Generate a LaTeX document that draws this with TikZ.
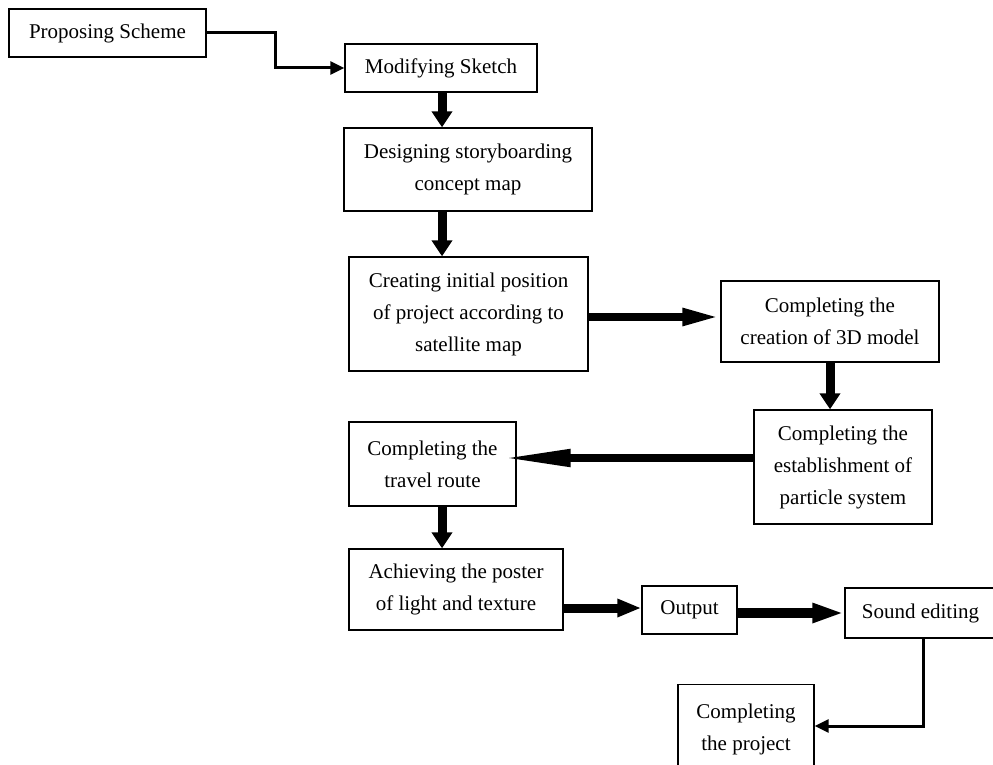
\documentclass[tikz,border=0pt]{standalone}
\usepackage{fontspec}
\setmainfont{Liberation Serif}
\usetikzlibrary{arrows.meta}
\begin{document}
\begin{tikzpicture}[x=1pt,y=-1pt,
  box/.style={draw=black, line width=1.4pt, inner sep=0pt, align=center,
    font=\fontsize{21}{32}\selectfont},
  thinflow/.style={line width=3pt, -{Triangle[length=14pt,width=13pt]}},
  vflow/.style={line width=9pt, -{Triangle[length=16pt,width=20pt]}},
  hflowA/.style={line width=8pt, -{Triangle[length=38pt,width=16pt]}},
  hflowB/.style={line width=8pt, -{Triangle[length=70pt,width=16pt]}},
  hflowC/.style={line width=9pt, -{Triangle[length=24pt,width=17pt]}},
  hflowD/.style={line width=10pt, -{Triangle[length=32pt,width=18pt]}}
]
\useasboundingbox (0,0) rectangle (993,765);

\node[box, minimum width=197pt, minimum height=48pt] (prop) at (107.5,33) {Proposing Scheme};
\node[box, minimum width=192pt, minimum height=48pt] (modi) at (441,68) {Modifying Sketch};
\node[box, minimum width=248pt, minimum height=83pt] (design) at (468,169.5) {Designing storyboarding\\concept map};
\node[box, minimum width=239pt, minimum height=114pt] (create) at (468.5,314) {Creating initial position\\of project according to\\satellite map};
\node[box, minimum width=218pt, minimum height=81pt] (model) at (830,321.5) {Completing the\\creation of 3D model};
\node[box, minimum width=178pt, minimum height=114pt] (particle) at (843,467) {Completing the\\establishment of\\particle system};
\node[box, minimum width=167pt, minimum height=84pt] (travel) at (432.5,464) {Completing the\\travel route};
\node[box, minimum width=214pt, minimum height=81pt] (achieve) at (456,589.5) {Achieving the poster\\of light and texture};
\node[box, minimum width=95pt, minimum height=48pt] (output) at (689.5,610) {Output};
\node[box, minimum width=151pt, minimum height=50pt] (sound) at (920.5,613) {Sound editing};
\node[box, minimum width=136pt, minimum height=89pt] (project) at (746,729) {Completing\\the project};

% helper coordinates
\coordinate (k1) at (275,33);
\coordinate (ax) at (442,0);
\coordinate (bx) at (830,0);
\coordinate (ya) at (0,317);
\coordinate (yb) at (0,458);
\coordinate (yc) at (0,608);
\coordinate (yd) at (0,613);
\coordinate (k2) at (923,726);

% connectors
\draw[thinflow] (prop.east) -- (k1) |- (modi.west);
\draw[vflow] (modi.south -| ax) -- (design.north -| ax);
\draw[vflow] (design.south -| ax) -- (create.north -| ax);
\draw[hflowA] (create.east |- ya) -- (model.west |- ya);
\draw[vflow] (model.south -| bx) -- (particle.north -| bx);
\draw[hflowB, shorten >=-16pt] (particle.west |- yb) -- (travel.east |- yb);
\draw[vflow] (travel.south -| ax) -- (achieve.north -| ax);
\draw[hflowC] (achieve.east |- yc) -- (output.west |- yc);
\draw[hflowD] (output.east |- yd) -- (sound.west |- yd);
\draw[thinflow] (sound.south -| k2) -- (k2) -- (project.east |- k2);
\end{tikzpicture}
\end{document}
